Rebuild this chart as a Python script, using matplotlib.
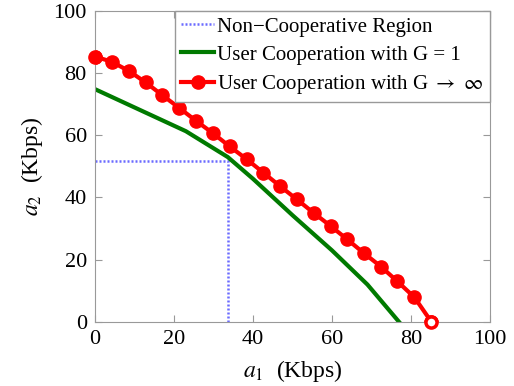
import numpy as np
import matplotlib
matplotlib.use('Agg')
import matplotlib.pyplot as plt

plt.rcParams['font.family'] = ['Liberation Serif', 'DejaVu Serif']
plt.rcParams['mathtext.fontset'] = 'stix'

# non-cooperative operating point
nc_a1 = 33.6
nc_a2 = 51.7

# user cooperation, G = 1
g1_a1 = [0, 23.0, 33.6, 40, 50, 60, 69, 77]
g1_a2 = [74.8, 61.3, 53.0, 46.0, 34.3, 23.0, 12.0, 0]

# user cooperation, G -> inf
ginf_a1 = [0, 4.26, 8.5, 12.8, 17.0, 21.3, 25.5, 29.9, 34.1, 38.4, 42.6,
           46.8, 51.1, 55.4, 59.7, 63.9, 68.1, 72.4, 76.6, 80.9, 85.2]
ginf_a2 = [85.3, 83.6, 80.7, 77.0, 72.9, 68.8, 64.7, 60.6, 56.4, 52.3, 48.0,
           43.7, 39.4, 35.0, 30.8, 26.5, 22.1, 17.8, 13.0, 7.9, 0]

fig = plt.figure(figsize=(5.14, 3.86), dpi=100)
ax = fig.add_axes([0.185, 0.166, 0.768, 0.806])

ax.plot([0, nc_a1, nc_a1], [nc_a2, nc_a2, 0], color='#6b6bff', lw=1.8,
        dashes=(0.8, 0.8), label='Non\u2212Cooperative Region')
ax.plot(g1_a1, g1_a2, '-', color='#007a00', lw=3,
        label='User Cooperation with G = 1')
ax.plot(ginf_a1, ginf_a2, '-o', color='#ff0000', lw=3, ms=9.5,
        label=r'User Cooperation with G $\rightarrow$ $\infty$')
ax.plot(ginf_a1[-1:], ginf_a2[-1:], 'o', color='#ff0000', mfc='white',
        mew=2.5, ms=8, clip_on=False, zorder=5)
ax.plot(ginf_a1[:1], ginf_a2[:1], 'o', color='#ff0000', ms=9.5,
        clip_on=False, zorder=5)

ax.set_xlim(0, 100)
ax.set_ylim(0, 100)
ax.set_xticks(np.arange(0, 101, 20))
ax.set_yticks(np.arange(0, 101, 20))
for s in ax.spines.values():
    s.set_color('#999999')
ax.tick_params(direction='in', length=5, color='#999999', labelsize=16,
               top=True, right=True, pad=6)

ax.set_xlabel(r'$a_1$  (Kbps)', fontsize=17, labelpad=6)
ax.set_ylabel(r'$a_2$  (Kbps)', fontsize=17, labelpad=6)

leg = ax.legend(loc='upper right', fontsize=15, borderaxespad=0,
                fancybox=False, framealpha=1, edgecolor='#999999',
                handlelength=1.6, handletextpad=0.15, labelspacing=0.4,
                borderpad=0.3)
leg.get_frame().set_linewidth(1)

fig.savefig('out.png', dpi=100)
